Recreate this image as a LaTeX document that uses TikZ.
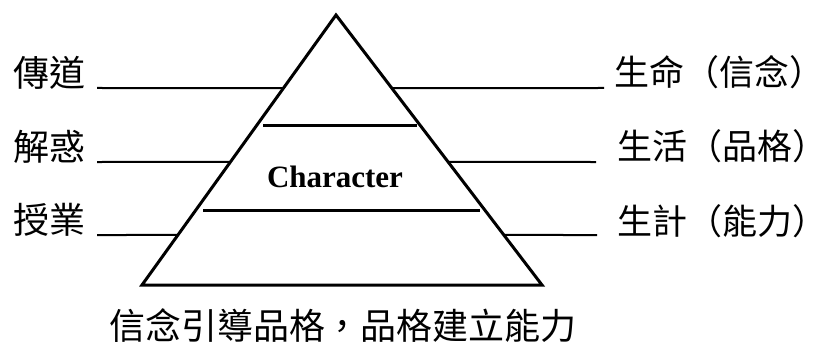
\documentclass[tikz,border=0pt]{standalone}
\usepackage{fontspec}
\setmainfont{Liberation Serif}
\newfontfamily\cjk{Noto Sans CJK TC}
\usetikzlibrary{calc}
\begin{document}
\begin{tikzpicture}[x=1pt,y=-1pt,
  cjklabel/.style={font=\cjk\fontsize{36}{36}\selectfont, inner sep=0pt},
  rightlabel/.style={font=\cjk\fontsize{35}{35}\selectfont, inner sep=0pt, anchor=west},
  leadline/.style={line width=2pt},
  tierline/.style={line width=3pt},
  pyramid/.style={line width=3pt, line join=miter}]
\useasboundingbox (0,0) rectangle (828,345);
% pyramid
\coordinate (apex) at (336,15);
\coordinate (bl) at (142,285);
\coordinate (br) at (542,285);
\draw[pyramid] (apex) -- (bl) -- (br) -- cycle;
% tier lines
\coordinate (t1l) at (263,125);
\coordinate (t1r) at (417,125);
\coordinate (t2l) at (203,210);
\coordinate (t2r) at (480,210);
\draw[tierline] (t1l) -- (t1r);
\draw[tierline] (t2l) -- (t2r);
% text in pyramid
\node[font=\bfseries\fontsize{31}{31}\selectfont, inner sep=0pt] (char) at (335,177) {Character};
% left labels
\node[cjklabel, anchor=east] (l1) at (86,73) {傳道};
\node[cjklabel, anchor=east] (l2) at (86,147) {解惑};
\node[cjklabel, anchor=east] (l3) at (86,220) {授業};
% right labels
\node[rightlabel] (r1) at (614,72) {生命（信念）};
\node[rightlabel] (r2) at (617,146) {生活（品格）};
\node[rightlabel] (r3) at (617,221) {生計（能力）};
% bottom caption
\node[cjklabel, anchor=center] (cap) at (343,326) {信念引導品格，品格建立能力};
% leader lines
\coordinate (a1) at (97,88);
\coordinate (a2) at (97,162);
\coordinate (a3) at (97,235);
\coordinate (e1) at ($(apex)!0.2704!(bl)$);
\coordinate (e2) at ($(apex)!0.5444!(bl)$);
\coordinate (e3) at ($(apex)!0.8148!(bl)$);
\coordinate (f1) at ($(apex)!0.2704!(br)$);
\coordinate (f2) at ($(apex)!0.5444!(br)$);
\coordinate (f3) at ($(apex)!0.8148!(br)$);
\coordinate (b1) at (604,88);
\coordinate (b2) at (596,162);
\coordinate (b3) at (597,235);
\draw[leadline] (a1) -- (e1);
\draw[leadline] (a2) -- (e2);
\draw[leadline] (a3) -- (e3);
\draw[leadline] (f1) -- (b1);
\draw[leadline] (f2) -- (b2);
\draw[leadline] (f3) -- (b3);
\end{tikzpicture}
\end{document}
